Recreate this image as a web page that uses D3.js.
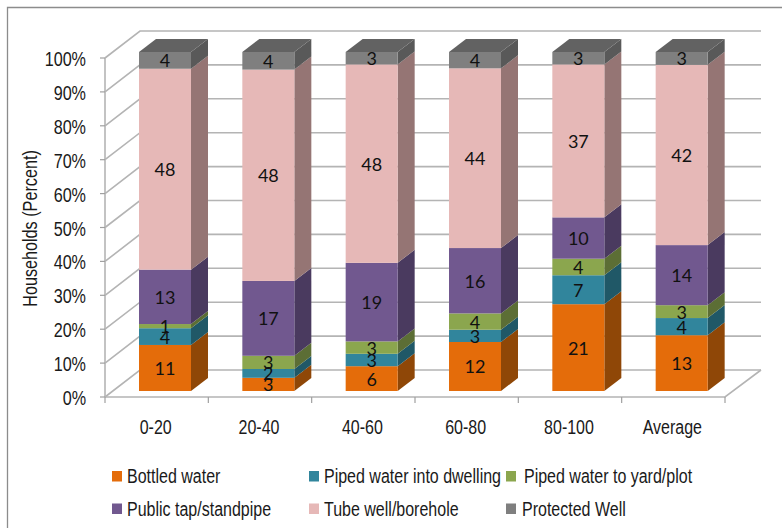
<!DOCTYPE html>
<html>
<head>
<meta charset="utf-8">
<script src="https://cdn.jsdelivr.net/npm/d3@7"></script>
<style>
html, body { margin: 0; padding: 0; background: #fff; }
svg { display: block; }
</style>
</head>
<body>
<svg id="chart" width="782" height="528"></svg>
<script>
// Household water source by quintile, shown as 100% stacked 3-D columns.
const categories = ["0-20", "20-40", "40-60", "60-80", "80-100", "Average"];
const seriesNames = ["Bottled water", "Piped water into dwelling", "Piped water to yard/plot",
                     "Public tap/standpipe", "Tube well/borehole", "Protected Well"];
const bottled  = [11, 3, 6, 12, 21, 13];
const dwelling = [4, 2, 3, 3, 7, 4];
const yard     = [1, 3, 3, 4, 4, 3];
const tap      = [13, 17, 19, 16, 10, 14];
const tube     = [48, 48, 48, 44, 37, 42];
const well     = [4, 4, 3, 4, 3, 3];
const percentTicks = [0, 10, 20, 30, 40, 50, 60, 70, 80, 90, 100];

const frontColors = ["#E46C0A", "#31859C", "#8BA64E", "#71588F", "#E6B8B7", "#7F7F7F"];
const sideColors  = ["#8F4707", "#205867", "#5C6E35", "#4A3A5F", "#957574", "#595959"];
const topColor = "#626262";

const svg = d3.select("#chart");
const seriesValues = [bottled, dwelling, yard, tap, tube, well];

// Each column's values are rescaled so the stack reaches 100%.
const rows = categories.map((c, i) => {
  const o = { category: c };
  seriesNames.forEach((n, s) => { o[n] = seriesValues[s][i]; });
  return o;
});
const stacked = d3.stack().keys(seriesNames).offset(d3.stackOffsetExpand)(rows);

// Front plane of the wall, plus the oblique offset to the back plane.
const y = d3.scaleLinear().domain([0, 1]).range([397, 58]);
const x = d3.scaleBand().domain(categories).range([105, 725]);
const wallDx = 35, wallDy = -27;
// Columns stand a little forward of the wall's centre line.
const barInsetX = 34, barFrontLift = -6, barW = 52, barDx = 17, barDy = -13;

const pct = p => `${p}%`;
const axisFont = "'Liberation Sans', Arial, sans-serif";
const labelFont = "Lato, 'Open Sans', sans-serif";

// Chart frame
svg.append("path").attr("d", "M7.5,528V7.5H782")
  .attr("fill", "none").attr("stroke", "#8c8c8c").attr("stroke-width", 1.3);

// Wall grid: diagonal on the side wall, horizontal on the back wall
const grid = svg.append("g").attr("fill", "none").attr("stroke", "#b4b4b4").attr("stroke-width", 1.6);
percentTicks.forEach(t => {
  const yy = y(t / 100);
  grid.append("path").attr("d", `M105,${yy}L${105 + wallDx},${yy + wallDy}H761`);
});
// Floor front edge and right edge
grid.append("path").attr("d", `M105,397H725L761,${397 + wallDy}`);
// Value axis line
grid.append("path").attr("d", `M105,58V397`);

// Tick marks
const ticks = svg.append("g").attr("stroke", "#a0a0a0").attr("stroke-width", 1.2);
percentTicks.forEach(t => {
  ticks.append("line").attr("x1", 100).attr("x2", 105).attr("y1", y(t / 100)).attr("y2", y(t / 100));
});
[...categories.map(c => x(c)), 725].forEach(px => {
  ticks.append("line").attr("x1", px).attr("x2", px).attr("y1", 397).attr("y2", 403);
});

// Narrowed text: the glyphs are squeezed horizontally around the anchor point.
function narrowText(parent, str, px, py, size, anchor, squeeze, font, fill) {
  return parent.append("text")
    .attr("transform", `translate(${px},${py}) scale(${squeeze},1)`)
    .attr("text-anchor", anchor)
    .attr("font-family", font)
    .attr("font-size", size)
    .attr("fill", fill || "#1a1a1a")
    .text(str);
}

// Value axis labels
const yLabels = svg.append("g");
percentTicks.forEach(t => {
  narrowText(yLabels, pct(t), 86, y(t / 100) + 8, 21, "end", 0.77, axisFont);
});
// Axis title
svg.append("text")
  .attr("transform", "translate(37,228.5) rotate(-90) scale(0.81,1)")
  .attr("text-anchor", "middle")
  .attr("font-family", axisFont)
  .attr("font-size", 20)
  .attr("fill", "#1a1a1a")
  .text("Households (Percent)");

// Category labels
const xLabels = svg.append("g");
categories.forEach(c => {
  narrowText(xLabels, c, x(c) + x.bandwidth() / 2 - 1, 434, 20, "middle", 0.8, axisFont);
});

// Columns, drawn bottom to top
const barsG = svg.append("g");
categories.forEach((c, i) => {
  const bx = x(c) + barInsetX;
  const g = barsG.append("g");
  stacked.forEach((layer, s) => {
    const y0 = y(layer[i][0]) + barFrontLift, y1 = y(layer[i][1]) + barFrontLift;
    // side face
    g.append("path")
      .attr("d", `M${bx + barW},${y0}L${bx + barW + barDx},${y0 + barDy}V${y1 + barDy}L${bx + barW},${y1}Z`)
      .attr("fill", sideColors[s]);
    // front face
    g.append("rect").attr("x", bx).attr("y", y1).attr("width", barW).attr("height", y0 - y1)
      .attr("fill", frontColors[s]);
  });
  // top face
  const yt = y(1) + barFrontLift;
  g.append("path")
    .attr("d", `M${bx},${yt}L${bx + barDx},${yt + barDy}H${bx + barW + barDx}L${bx + barW},${yt}Z`)
    .attr("fill", topColor);
  // value labels
  stacked.forEach((layer, s) => {
    const y0 = y(layer[i][0]) + barFrontLift, y1 = y(layer[i][1]) + barFrontLift;
    g.append("text")
      .attr("x", bx + barW / 2)
      .attr("y", (y0 + y1) / 2 + 7)
      .attr("text-anchor", "middle")
      .attr("font-family", labelFont)
      .attr("font-size", 18)
      .attr("fill", "#111")
      .text(seriesValues[s][i]);
  });
});

// Legend
const legendCols = [112, 309, 506];
const legendRows = [476, 508.5];
const legendTextGap = [15, 15, 18, 15, 15, 16];
const legend = svg.append("g");
seriesNames.forEach((n, s) => {
  const lx = legendCols[s % 3], ly = legendRows[Math.floor(s / 3)];
  legend.append("rect").attr("x", lx).attr("y", ly - 5).attr("width", 10).attr("height", 10.5)
    .attr("fill", frontColors[s]);
  narrowText(legend, n, lx + legendTextGap[s], ly + 7, 20, "start", 0.8, axisFont);
});
</script>
</body>
</html>
